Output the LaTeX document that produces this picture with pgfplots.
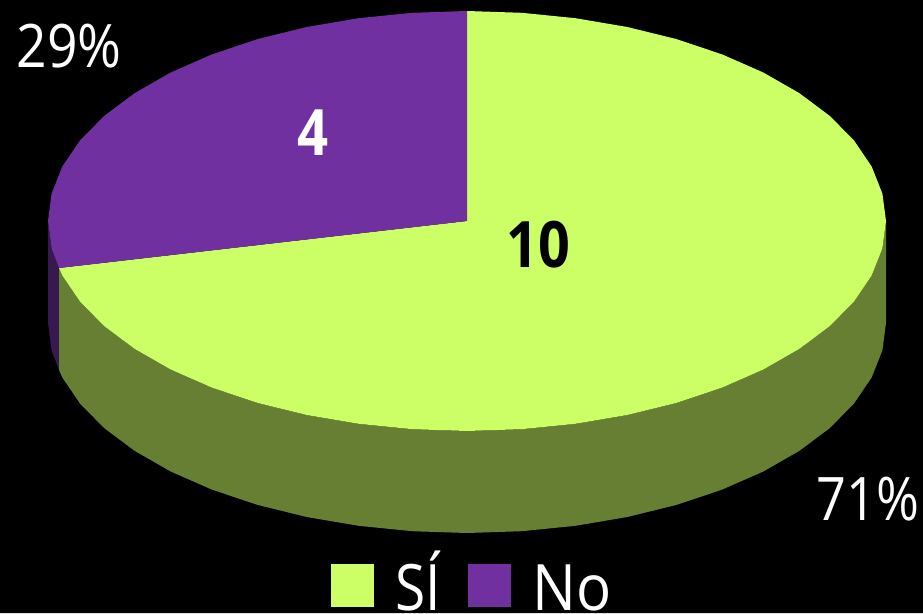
\documentclass[border=0pt]{standalone}
\usepackage{pgfplots}
\pgfplotsset{compat=1.18}
\usepackage{fontspec}
\setmainfont{Open Sans}

\definecolor{lima}{HTML}{CCFF66}
\definecolor{limadark}{HTML}{667F33}
\definecolor{morado}{HTML}{7030A0}
\definecolor{moradodark}{HTML}{381850}

\begin{document}
\begin{tikzpicture}
\begin{axis}[
	scale only axis, width=923pt, height=613pt,
	xmin=0, xmax=923, ymin=0, ymax=613, y dir=reverse,
	hide axis, clip=true,
	legend columns=2,
	legend cell align=left,
	legend style={at={(axis cs:331,612)}, anchor=south west, draw=none, fill=none,
		text=white, font=\fontsize{64}{64}\selectfont, inner sep=0pt, outer sep=0pt,
		nodes={inner sep=0pt, outer sep=0pt, anchor=base west},
		/tikz/column 1/.style={column sep=21pt},
		/tikz/column 2/.style={column sep=27pt},
		/tikz/column 3/.style={column sep=22pt}},
	legend image code/.code={\fill[#1] (0pt,4pt) rectangle (43pt,47pt);},
]
% background
\addplot[fill=black, draw=none, forget plot] coordinates {(0,0) (923,0) (923,613) (0,613)} \closedcycle;

% side wall of No
\addplot[fill=moradodark, draw=none, forget plot] coordinates {
(48,221) (51.6,248.4) (59,268) (59,370) (51.6,350.4) (48,323)
} -- cycle;

% side wall of Si
\addplot[fill=limadark, draw=none, forget plot] coordinates {
(59,268) (62.3,275.4) (79.9,301.4) (104.1,326) (134.6,348.8) (170.7,369.5)
(211.9,387.6) (257.5,402.9) (306.7,415) (358.6,423.8) (412.3,429.2) (467,431)
(521.7,429.2) (575.4,423.8) (627.3,415) (676.5,402.9) (722.1,387.6) (763.3,369.5)
(799.4,348.8) (829.9,326) (854.1,301.4) (871.7,275.4) (882.4,248.4) (886,221)
(886,323) (882.4,350.4) (871.7,377.4) (854.1,403.4) (829.9,428) (799.4,450.8)
(763.3,471.5) (722.1,489.6) (676.5,504.9) (627.3,517) (575.4,525.8) (521.7,531.2)
(467,533) (412.3,531.2) (358.6,525.8) (306.7,517) (257.5,504.9) (211.9,489.6)
(170.7,471.5) (134.6,450.8) (104.1,428) (79.9,403.4) (62.3,377.4) (59,370)
} -- cycle;

% top: Si, 10 (71%)
\addplot[fill=lima, draw=none] coordinates {
(467,221) (467,11) (521.7,12.8) (575.4,18.2) (627.3,27) (676.5,39.1) (722.1,54.4)
(763.3,72.5) (799.4,93.2) (829.9,116) (854.1,140.6) (871.7,166.6) (882.4,193.6)
(886,221) (882.4,248.4) (871.7,275.4) (854.1,301.4) (829.9,326) (799.4,348.8)
(763.3,369.5) (722.1,387.6) (676.5,402.9) (627.3,415) (575.4,423.8) (521.7,429.2)
(467,431) (412.3,429.2) (358.6,423.8) (306.7,415) (257.5,402.9) (211.9,387.6)
(170.7,369.5) (134.6,348.8) (104.1,326) (79.9,301.4) (62.3,275.4) (59,268)
} -- cycle;
\addlegendentry{\scalebox{0.86}[1]{SÍ}}

% top: No, 4 (29%)
\addplot[fill=morado, draw=none] coordinates {
(467,221) (59,268) (51.6,248.4) (48,221) (51.6,193.6) (62.3,166.6) (79.9,140.6)
(104.1,116) (134.6,93.2) (170.7,72.5) (211.9,54.4) (257.5,39.1) (306.7,27)
(358.6,18.2) (412.3,12.8) (467,11)
} -- cycle;
\addlegendentry{\scalebox{0.91}[1]{No}}

\node[text=black, font=\fontsize{64}{64}\selectfont\bfseries] at (axis cs:538.5,245) {\scalebox{0.87}[1]{10}};
\node[text=white, font=\fontsize{64}{64}\selectfont\bfseries] at (axis cs:313.5,133) {\scalebox{0.85}[1]{4}};
\node[text=white, font=\fontsize{60}{60}\selectfont] at (axis cs:69,46) {\scalebox{0.89}[1]{29\%}};
\node[text=white, font=\fontsize{60}{60}\selectfont] at (axis cs:868,499) {\scalebox{0.87}[1]{71\%}};
\end{axis}
\end{tikzpicture}
\end{document}
